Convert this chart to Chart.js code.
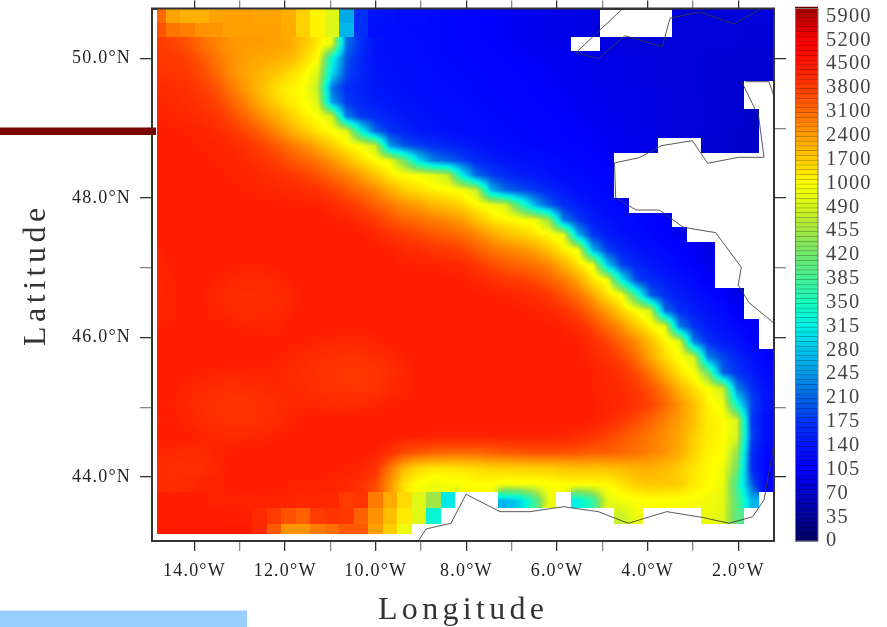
<!DOCTYPE html>
<html><head><meta charset="utf-8">
<style>html,body{margin:0;padding:0;background:#fff}canvas{display:block}</style>
<script src="https://cdn.jsdelivr.net/npm/chart.js@4/dist/chart.umd.min.js"></script>
</head><body><canvas id="c" width="887" height="627"></canvas>
<script>
const _ = null;
const lonEdges = [-14.83,-14.638,-14.319,-13.999,-13.680,-13.361,-13.042,-12.722,-12.403,-12.084,-11.764,-11.445,-11.126,-10.806,-10.487,-10.168,-9.849,-9.529,-9.210,-8.891,-8.571,-8.252,-7.933,-7.613,-7.294,-6.975,-6.656,-6.336,-6.017,-5.698,-5.378,-5.059,-4.740,-4.420,-4.101,-3.782,-3.462,-3.143,-2.824,-2.505,-2.185,-1.866,-1.547,-1.227];
const latEdges = [50.717,50.516,50.311,50.110,49.895,49.680,49.479,49.278,49.063,48.858,48.643,48.432,48.217,48.006,47.792,47.578,47.364,47.146,46.931,46.714,46.495,46.265,46.050,45.831,45.605,45.382,45.153,44.924,44.694,44.465,44.235,44.007,43.780,43.550,43.320,43.181];
const row00=[3200,2350,2150,2150,2350,2400,2400,2350,2350,2200,1650,1150,600,260,170,135,130,125,122,118,115,112,108,105,100,97,95,92,90,88,85,_,_,_,_,_,80,80,80,80,82,80,80];
const row01=[3500,3000,2850,2600,2550,2400,2400,2400,2400,2250,1650,1150,600,270,170,130,128,124,120,117,114,111,108,104,100,97,94,92,90,88,85,_,_,_,_,_,80,80,80,80,80,78,78];
const row02=[3800,3700,3500,3100,2800,2550,2450,2450,2400,2300,1850,1300,700,220,170,135,130,126,122,118,115,112,108,105,102,99,96,94,92,_,_,84,84,82,82,82,80,80,80,80,80,78,78];
const row03=[3900,3850,3750,3400,3000,2650,2400,2300,2200,2050,1600,1050,330,200,160,135,132,128,124,120,117,114,112,109,106,104,101,99,97,94,92,90,88,86,84,82,80,80,78,78,76,76,75];
const row04=[4000,3950,3850,3600,3200,2700,2350,2100,1850,1500,1150,600,300,190,160,140,135,131,127,123,120,117,114,111,109,106,104,101,98,96,93,91,89,87,85,83,81,80,78,77,76,75,75];
const row05=[4150,4100,4000,3800,3500,2950,2500,2000,1500,1200,1000,480,220,170,155,142,137,133,129,125,122,119,116,113,110,108,105,102,100,97,95,92,90,88,86,84,82,80,78,77,76,_,_];
const row06=[4250,4200,4100,3950,3700,3300,2800,2200,1700,1300,1050,600,250,180,160,148,142,137,132,128,125,122,119,116,113,110,107,105,102,99,96,94,91,89,87,85,83,81,79,77,75,_,_];
const row07=[4350,4300,4200,4100,3950,3600,3200,2750,2250,1750,1250,1000,500,230,180,165,155,145,138,133,129,126,122,119,116,113,110,107,104,101,98,95,92,90,88,85,83,81,79,77,75,72,_];
const row08=[4400,4400,4350,4300,4150,3950,3650,3300,2800,2300,1800,1350,1000,650,330,215,175,155,145,138,133,128,125,121,118,115,112,109,106,103,100,97,94,91,88,86,83,81,78,76,74,72,_];
const row09=[4450,4450,4400,4350,4300,4200,4000,3750,3450,3050,2700,2250,1700,1200,900,480,250,200,185,170,160,150,140,130,125,120,116,112,109,106,103,100,97,94,91,_,_,_,78,76,74,72,_];
const row10=[4450,4450,4450,4400,4350,4300,4200,4000,3800,3500,3250,3000,2550,2000,1450,1050,800,420,300,230,210,190,165,150,140,135,130,125,118,112,106,100,_,_,_,_,_,_,_,_,_,_,_];
const row11=[4450,4450,4450,4450,4400,4350,4300,4200,4100,3950,3750,3500,3200,2850,2400,1850,1300,1000,900,700,480,320,215,185,165,150,145,135,125,120,115,110,_,_,_,_,_,_,_,_,_,_,_];
const row12=[4450,4450,4450,4450,4450,4400,4350,4300,4250,4200,4100,4000,3750,3400,3100,2750,2200,1700,1450,1200,1050,900,480,270,215,195,180,160,145,130,122,115,_,_,_,_,_,_,_,_,_,_,_];
const row13=[4450,4450,4450,4450,4450,4450,4450,4400,4400,4400,4350,4330,4150,3950,3650,3300,3000,2650,2400,2050,1850,1550,1100,830,520,380,270,205,170,150,135,125,115,_,_,_,_,_,_,_,_,_,_];
const row14=[4450,4450,4450,4450,4450,4450,4450,4450,4450,4450,4450,4450,4350,4300,4100,3850,3500,3250,3100,2900,2750,2450,1900,1400,1150,1000,830,450,230,180,150,135,125,118,108,98,_,_,_,_,_,_,_];
const row15=[4450,4450,4450,4450,4450,4450,4450,4450,4450,4450,4450,4450,4450,4450,4400,4250,4000,3800,3650,3450,3300,3100,2800,2350,1950,1700,1400,1050,700,270,180,150,135,125,115,105,95,_,_,_,_,_,_];
const row16=[4350,4450,4450,4450,4450,4450,4450,4450,4450,4450,4450,4450,4450,4450,4450,4400,4350,4200,4100,3950,3850,3700,3350,3050,2850,2650,2350,1850,1250,830,270,185,155,140,128,118,108,98,88,_,_,_,_];
const row17=[4300,4400,4450,4450,4450,4400,4350,4350,4400,4450,4450,4450,4450,4450,4450,4450,4450,4350,4350,4300,4250,4150,3900,3600,3350,3250,3050,2750,2150,1400,830,290,190,160,145,130,118,105,92,_,_,_,_];
const row18=[4250,4350,4450,4450,4350,4250,4200,4200,4250,4350,4450,4450,4450,4450,4450,4450,4450,4450,4450,4450,4450,4380,4250,4100,3900,3800,3600,3300,2950,2350,1400,870,320,195,165,150,135,120,100,_,_,_,_];
const row19=[4250,4350,4450,4400,4250,4150,4100,4100,4150,4250,4400,4450,4450,4450,4450,4450,4450,4450,4450,4450,4450,4450,4450,4350,4280,4200,4100,3850,3500,3050,2350,1450,930,380,210,170,150,135,120,105,90,_,_];
const row20=[4300,4350,4450,4400,4300,4200,4150,4150,4200,4300,4450,4450,4450,4450,4450,4450,4450,4450,4450,4450,4450,4450,4450,4450,4450,4400,4300,4250,4000,3650,3100,2450,1650,1030,520,225,170,150,135,120,100,_,_];
const row21=[4350,4400,4450,4450,4400,4350,4300,4300,4300,4400,4450,4450,4450,4450,4450,4450,4450,4450,4450,4450,4450,4450,4450,4450,4450,4450,4450,4400,4330,4100,3650,3150,2600,1800,1150,700,230,175,150,135,118,100,_];
const row22=[4450,4450,4450,4450,4450,4450,4450,4450,4400,4400,4350,4300,4250,4200,4200,4300,4400,4450,4450,4450,4450,4450,4450,4450,4450,4450,4450,4450,4400,4370,4100,3700,3200,2700,1950,1200,700,230,170,150,135,110,_];
const row23=[4450,4450,4450,4450,4450,4450,4450,4450,4400,4300,4200,4100,4050,4000,4000,4100,4200,4350,4450,4450,4450,4450,4450,4450,4450,4450,4450,4450,4450,4400,4250,4000,3650,3100,2300,1500,1000,500,230,190,160,135,105];
const row24=[4450,4450,4400,4350,4300,4300,4300,4300,4300,4200,4100,4000,3950,3900,3900,3950,4100,4250,4400,4450,4450,4450,4450,4450,4450,4450,4450,4450,4450,4450,4350,4200,4000,3600,3000,2200,1350,950,420,210,175,150,120];
const row25=[4450,4400,4300,4200,4100,4050,4100,4150,4250,4250,4150,4050,4000,3950,3950,4000,4150,4300,4400,4450,4450,4450,4450,4450,4450,4450,4450,4450,4450,4450,4350,4250,4150,3900,3500,2900,2100,1450,1000,480,230,175,135];
const row26=[4400,4350,4250,4100,4000,3950,3950,4000,4100,4200,4250,4200,4150,4150,4200,4250,4350,4400,4450,4450,4450,4450,4450,4450,4450,4450,4450,4450,4450,4450,4450,4300,4200,4000,3700,3200,2600,1900,1150,850,330,190,140];
const row27=[4350,4400,4300,4150,4050,4000,4000,4050,4150,4300,4400,4450,4450,4450,4450,4450,4450,4450,4450,4450,4450,4450,4450,4450,4450,4450,4450,4450,4450,4450,4350,4200,3900,3600,3250,2850,2450,1900,1250,1050,550,180,130];
const row28=[4450,4450,4400,4300,4250,4200,4200,4250,4350,4400,4450,4450,4450,4450,4450,4450,4450,4400,4350,4300,4300,4300,4300,4300,4300,4300,4300,4300,4250,4100,3950,3700,3450,3200,2950,2650,2300,1700,1250,1050,500,190,130];
const row29=[4250,4200,4150,4200,4300,4400,4450,4450,4450,4450,4450,4450,4450,4450,4400,4350,4050,3600,3400,3300,3200,3200,3200,3300,3400,3450,3500,3500,3500,3450,3350,3300,3200,3050,2850,2600,2200,1600,1150,1000,450,170,120];
const row30=[4100,4050,4050,4100,4250,4400,4450,4450,4450,4450,4450,4450,4400,4350,4300,4000,3000,2000,1500,1350,1350,1400,1500,1600,1600,1650,1700,1700,1850,1900,1850,1900,2000,2100,2150,2000,1700,1350,1100,850,420,170,115];
const row31=[4150,4100,4200,4300,4350,4400,4450,4450,4400,4350,4300,4350,4300,4200,4000,3600,2600,1350,950,800,900,950,1000,1000,900,900,900,950,1000,1000,1050,1050,1350,1700,1800,1750,1700,1300,1050,800,380,210,110];
const row32=[4400,4400,4400,4400,4350,4350,4350,4350,4300,4300,4250,4250,4250,3800,3950,2900,2250,1500,650,455,310,_,_,_,270,295,380,800,_,320,370,650,900,950,1000,1000,950,900,850,700,400,270,_];
const row33=[4400,4450,4450,4450,4450,4400,4400,4150,3800,3500,3300,3800,3950,3900,3300,2600,1950,1300,650,330,_,_,_,_,_,_,_,_,_,_,_,_,480,800,_,_,_,_,800,650,400,_,_];
const row34=[4500,4500,4500,4500,4500,4500,4500,4150,3400,2550,2550,2900,3100,3400,3400,2400,1700,800,_,_,_,_,_,_,_,_,_,_,_,_,_,_,_,_,_,_,_,_,_,_,_,_,_];
const depthRows=[row00,row01,row02,row03,row04,row05,row06,row07,row08,row09,row10,row11,row12,row13,row14,row15,row16,row17,row18,row19,row20,row21,row22,row23,row24,row25,row26,row27,row28,row29,row30,row31,row32,row33,row34];
depthRows.forEach((r,i)=>{ if(r.length!==43) throw new Error('row '+i+' has '+r.length); });

const lonTicks=[-14,-12,-10,-8,-6,-4,-2];
const lonTickLabels=['14.0°W','12.0°W','10.0°W','8.0°W','6.0°W','4.0°W','2.0°W'];
const latTicks=[44,46,48,50];
const latTickLabels=['44.0°N','46.0°N','48.0°N','50.0°N'];
const barLabels=['0','35','70','105','140','175','210','245','280','315','350','385','420','455','490','1000','1700','2400','3100','3800','4500','5200','5900'];
const barValues=[0,35,70,105,140,175,210,245,280,315,350,385,420,455,490,1000,1700,2400,3100,3800,4500,5200,5900];
const barColors=[[0,0,100],[0,0,150],[0,0,200],[0,0,255],[0,20,250],[0,50,245],[0,100,230],[0,150,230],[0,195,235],[0,240,230],[20,250,190],[70,240,150],[110,230,110],[160,230,70],[210,245,30],[255,255,0],[255,205,0],[255,160,0],[255,110,0],[255,60,0],[255,25,0],[255,0,0],[190,0,0],[130,0,0]];

const coastNorthLon=[-4.551,-5.582,-5.090,-4.501,-3.678,-3.508,-2.846,-2.096,-1.522];
const coastNorthLat=[50.72,50.086,50.0,50.33,50.172,50.58,50.67,50.498,50.709];
const coastIslandLon=[-1.846,-1.323,-1.224];
const coastIslandLat=[49.67,49.67,49.479];
const coastWestLon=[-1.926,-1.551,-1.434,-2.001,-2.676,-3.016,-3.691,-4.185,-4.733,-4.706,-4.258,-3.744,-3.214,-2.499,-1.935,-2.001,-1.765,-1.224];
const coastWestLat=[49.67,49.168,48.585,48.585,48.499,48.824,48.752,48.580,48.504,48.006,47.829,47.829,47.581,47.504,47.007,46.753,46.499,46.212];
const coastSouthLon=[-9.062,-8.892,-8.340,-8.009,-7.259,-6.597,-5.862,-5.090,-4.428,-3.581,-2.808,-2.199,-1.683,-1.434,-1.224];
const coastSouthLat=[43.08,43.253,43.334,43.750,43.501,43.501,43.572,43.501,43.334,43.501,43.420,43.334,43.429,43.669,44.433];

const xTitle='Longitude', yTitle='Latitude';
const serif='"Liberation Serif"';

function valueToIndex(v){
  for(let i=1;i<barValues.length;i++){ if(v<=barValues[i]) return i-1+(v-barValues[i-1])/(barValues[i]-barValues[i-1]); }
  return barValues.length-1;
}
function indexToRgb(t){
  const i=Math.min(Math.floor(t),barColors.length-2), f=t-i, a=barColors[i], b=barColors[i+1];
  return [a[0]+(b[0]-a[0])*f,a[1]+(b[1]-a[1])*f,a[2]+(b[2]-a[2])*f];
}
const pair=(xs,ys)=>xs.map((x,i)=>({x,y:ys[i]}));
const coast=(xs,ys)=>({type:'scatter',showLine:true,data:pair(xs,ys),borderColor:'rgba(60,60,60,0.85)',borderWidth:1,pointRadius:0,tension:0,xAxisID:'x',yAxisID:'y'});
const rowSmooth=(r,j)=>r>=2&&(r<=31||(j>=21&&r<=33));

const field={id:'field',
  beforeLayout(ch){ ch.ctx.letterSpacing='1.2px'; },
  beforeDraw(ch){ ch.ctx.letterSpacing='1.2px'; },
  beforeDatasetsDraw(ch){
    const X=ch.scales.x,Y=ch.scales.y,ctx=ch.ctx,W=ch.width,H=ch.height;
    const off=document.createElement('canvas');off.width=W;off.height=H;
    const oc=off.getContext('2d'),img=oc.createImageData(W,H),d=img.data;
    const xe=lonEdges.map(v=>X.getPixelForValue(v)),ye=latEdges.map(v=>Y.getPixelForValue(v));
    const xc=[],yc=[];
    for(let j=0;j<43;j++)xc.push((xe[j]+xe[j+1])/2);
    for(let r=0;r<35;r++)yc.push((ye[r]+ye[r+1])/2);
    const idx=depthRows.map(row=>row.map(v=>v===null?null:valueToIndex(v)));
    for(let r=0;r<35;r++)for(let j=0;j<43;j++){
      const v=idx[r][j]; if(v===null)continue;
      const smooth=rowSmooth(r,j);
      for(let py=Math.round(ye[r]);py<Math.round(ye[r+1]);py++)for(let px=Math.round(xe[j]);px<Math.round(xe[j+1]);px++){
        let val=v;
        if(smooth){
          const jb=px+.5<xc[j]?j-1:j+1, rb=py+.5<yc[r]?r-1:r+1;
          const okJ=jb>=0&&jb<43, okR=rowSmooth(rb,j);
          const fx=okJ?Math.abs(px+.5-xc[j])/Math.abs(xc[jb]-xc[j]):0;
          const fy=okR?Math.abs(py+.5-yc[r])/Math.abs(yc[rb]-yc[r]):0;
          let b=okJ?idx[r][jb]:v; if(b===null)b=v;
          let c=okR?idx[rb][j]:v; if(c===null)c=v;
          let e=(okJ&&okR)?idx[rb][jb]:v; if(e===null)e=(b+c)/2;
          val=v*(1-fx)*(1-fy)+b*fx*(1-fy)+c*(1-fx)*fy+e*fx*fy;
        }
        const rgb=indexToRgb(val),k=(py*W+px)*4;
        d[k]=rgb[0];d[k+1]=rgb[1];d[k+2]=rgb[2];d[k+3]=255;
      }
    }
    oc.putImageData(img,0,0);
    ctx.save();ctx.drawImage(off,0,0);ctx.restore();
  },
  afterDraw(ch){
    const ctx=ch.ctx,C=ch.scales.cb;
    ctx.save();
    const top=C.getPixelForValue(C.max),bottom=C.getPixelForValue(0);
    for(let i=0;i<Math.round(C.max*5);i++){
      const t0=i/5,t1=(i+1)/5,rgb=indexToRgb((t0+t1)/2);
      const y1=C.getPixelForValue(t0),y0=C.getPixelForValue(t1);
      ctx.fillStyle=`rgb(${rgb[0]|0},${rgb[1]|0},${rgb[2]|0})`;
      ctx.fillRect(795,y0,23,y1-y0+.5);
      ctx.fillStyle='rgba(0,0,0,0.45)';
      ctx.fillRect(795,y0,23,1);
    }
    ctx.strokeStyle='#777';ctx.lineWidth=1;ctx.strokeRect(795.5,top,22.5,bottom-top);
    const a=ch.chartArea;
    ctx.strokeStyle='#333';ctx.lineWidth=2;ctx.strokeRect(a.left,a.top,a.right-a.left,a.bottom-a.top);
    ctx.fillStyle='#333';ctx.font='32px '+serif;ctx.textBaseline='alphabetic';ctx.textAlign='left';
    ctx.letterSpacing='4.3px';
    ctx.fillText(xTitle,378,619);
    ctx.translate(45,346);ctx.rotate(-Math.PI/2);
    ctx.letterSpacing='4.5px';
    ctx.fillText(yTitle,0,0);
    ctx.restore();
    ctx.save();
    ctx.fillStyle='#7a0000';ctx.fillRect(0,127.5,156,7.5);
    ctx.fillStyle='#99ccff';ctx.fillRect(0,610.5,247,16.5);
    ctx.restore();
  }
};
const tickCol=c=>(Number.isInteger(c.tick.value/2)?'#333':'#888');
const gridOf=len=>({drawOnChartArea:false,drawTicks:true,tickLength:len,color:tickCol,lineWidth:1.3,tickColor:tickCol});
const border={color:'#333',width:2};
const fixBox=(w,h)=>s=>{ if(w!==null)s.width=w; if(h!==null)s.height=h; s.paddingTop=0;s.paddingBottom=0;s.paddingLeft=0;s.paddingRight=0; };
new Chart(document.getElementById('c'),{
  type:'scatter',
  data:{datasets:[coast(coastNorthLon,coastNorthLat),coast(coastIslandLon,coastIslandLat),coast(coastWestLon,coastWestLat),coast(coastSouthLon,coastSouthLat)]},
  plugins:[field],
  options:{
    responsive:false,animation:false,devicePixelRatio:1,
    layout:{padding:{left:0,top:0,right:16,bottom:0}},
    plugins:{legend:{display:false},tooltip:{enabled:false},title:{display:false}},
    scales:{
      x:{type:'linear',position:'bottom',min:-14.938,max:-1.213,border,grid:gridOf(10),
        afterFit:fixBox(null,86),
        ticks:{stepSize:1,includeBounds:false,autoSkip:false,maxRotation:0,minRotation:0,padding:9,color:'#222',font:{family:serif,size:18},
          callback:v=>{const i=lonTicks.indexOf(v);return i>=0?lonTickLabels[i]:'';}}},
      xTop:{type:'linear',axis:'x',position:'top',min:-14.938,max:-1.213,border,grid:gridOf(8),
        afterFit:fixBox(null,8.5),
        ticks:{stepSize:1,includeBounds:false,autoSkip:false,display:false}},
      y:{type:'linear',position:'left',min:43.08,max:50.72,border,grid:gridOf(12),
        afterFit:fixBox(152,null),
        ticks:{stepSize:1,includeBounds:false,autoSkip:false,padding:9,color:'#222',font:{family:serif,size:18},
          callback:v=>{const i=latTicks.indexOf(v);return i>=0?latTickLabels[i]:'';}}},
      yRight:{type:'linear',axis:'y',position:'right',weight:0,min:43.08,max:50.72,border,grid:gridOf(12),
        afterFit:fixBox(12,null),
        ticks:{stepSize:1,includeBounds:false,autoSkip:false,display:false}},
      cb:{type:'linear',axis:'y',position:'right',weight:1,min:0,max:22.33,border:{display:false},
        grid:{display:false,drawTicks:false},
        afterFit:fixBox(85,null),
        ticks:{stepSize:1,includeBounds:false,autoSkip:false,padding:40,color:'#444',font:{family:serif,size:20.5},
          callback:v=>barLabels[v]}}
    }
  }
});
</script></body></html>
